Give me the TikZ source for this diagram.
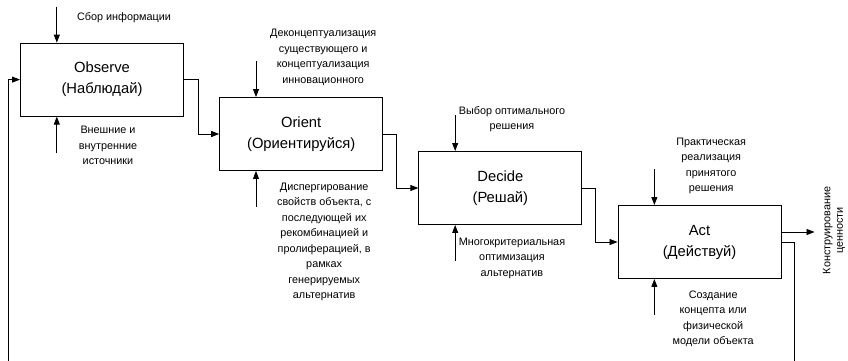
\documentclass[tikz,border=0pt]{standalone}
\usepackage{fontspec}
\setmainfont{Liberation Sans}
\usetikzlibrary{arrows.meta, positioning}

\begin{document}
\begin{tikzpicture}[
    node distance=0.88cm,
    stage/.style={rectangle, draw=black, line width=0.7pt, align=center, minimum width=4.075cm, minimum height=1.825cm, font=\fontsize{10.5}{15}\selectfont},
    note/.style={align=center, inner sep=0pt, font=\fontsize{7.7}{11}\selectfont},
    flow/.style={draw, line width=0.6pt, -{Triangle[length=2mm, width=1.5mm]}},
    ctrl/.style={flow}
]
\useasboundingbox (0,0) rectangle (21.2,9);
\clip (0,0) rectangle (21.2,9);

% Stages
\node[stage] (obs) at (2.55,7.01) {Observe\\(Наблюдай)};
\node[stage, right=of obs, yshift=-1.36cm] (ori) {Orient\\(Ориентируйся)};
\node[stage, right=of ori, yshift=-1.35cm] (dec) {Decide\\(Решай)};
\node[stage, right=of dec, yshift=-1.35cm] (act) {Act\\(Действуй)};

% Controls and mechanisms
\foreach \s in {obs, ori, dec, act} {
    \coordinate (\s-in) at ([xshift=0.92cm, yshift=0.9cm]\s.north west);
    \coordinate (\s-mech) at ([xshift=0.92cm, yshift=-0.9cm]\s.south west);
    \draw[ctrl] (\s-in) -- (\s-in |- \s.north);
    \draw[ctrl] (\s-mech) -- (\s-mech |- \s.south);
}

% Labels
\node[note] (obstop) at ([xshift=0.55cm, yshift=0.625cm]obs.north) {Сбор информации};
\node[note] (obsbot) at ([xshift=0.15cm, yshift=-0.725cm]obs.south) {Внешние и\\внутренние\\источники};
\node[note] (oritop) at ([xshift=0.55cm, yshift=0.99cm]ori.north) {Деконцептуализация\\существующего и\\концептуализация\\инновационного};
\node[note] (oribot) at ([xshift=0.575cm, yshift=-1.775cm]ori.south) {Диспергирование\\свойств объекта, с\\последующей их\\рекомбинацией и\\пролиферацией, в\\рамках\\генерируемых\\альтернатив};
\node[note] (dectop) at ([xshift=0.29cm, yshift=0.79cm]dec.north) {Выбор оптимального\\решения};
\node[note] (decbot) at ([xshift=0.29cm, yshift=-0.825cm]dec.south) {Многокритериальная\\оптимизация\\альтернатив};
\node[note] (acttop) at ([xshift=0.29cm, yshift=0.975cm]act.north) {Практическая\\реализация\\принятого\\решения};
\node[note] (actbot) at ([xshift=0.34cm, yshift=-1.0cm]act.south) {Создание\\концепта или\\физической\\модели объекта};

% Main flow
\draw[flow] (obs.east) -- ++(0.35,0) |- (ori.west);
\draw[flow] (ori.east) -- ++(0.33,0) |- (dec.west);
\draw[flow] (dec.east) -- ++(0.33,0) |- (act.west);

% Output
\coordinate (out) at ([xshift=0.825cm, yshift=0.25cm]act.east);
\draw[flow] (act.east |- out) -- (out);
\node[note, rotate=90, anchor=north, font=\fontsize{7.7}{9}\selectfont] (value) at ([xshift=0.2cm, yshift=0.04cm]out) {Конструирование\\ценности};

% Feedback
\coordinate (fbot) at (0.2,-0.4);
\draw[flow] (act.east) -- ++(0.33,0) |- (fbot) |- (obs.west);

\end{tikzpicture}
\end{document}
